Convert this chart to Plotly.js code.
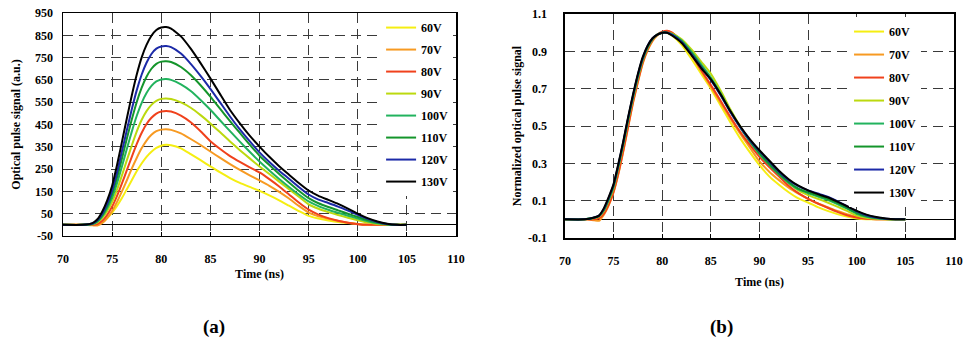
<!DOCTYPE html>
<html><head><meta charset="utf-8">
<script src="https://cdn.plot.ly/plotly-3.0.1.min.js"></script>
<style>html,body{margin:0;padding:0;background:#fff}#chart{width:967px;height:341px}</style>
</head><body><div id="chart"></div>
<script>
// time axis (ns), shared by all curves
const time = [70,72,73,73.5,74,74.5,75,75.5,76,76.5,77,77.5,78,78.5,79,79.5,80,80.5,81,82,83,84,85,86,87,88,89,90,91,92,93,94,95,96,97,98,99,100,101,102,103,104,105];
const voltages = ['60V','70V','80V','90V','100V','110V','120V','130V'];

// (a) optical pulse signal (a.u.)
const signal60  = [0,0,0,2,10,30,55,85,120,160,200,240,275,305,328,345,355,359,357,343,317,290,262,235,210,188,170,152,132,110,86,62,40,28,20,13,8,4,1,0,0,0,0];
const signal70  = [0,0,-2,-3,8,30,62,103,150,200,252,300,343,378,404,420,427,429,426,410,385,358,329,300,272,246,222,199,175,148,118,85,55,38,27,17,9,4,1,0,0,0,0];
const signal80  = [0,0,0,4,18,45,82,130,186,245,305,362,412,452,480,499,508,511,508,490,460,420,375,340,308,282,258,235,205,172,136,100,68,46,30,18,9,3,0,0,0,0,0];
const signal90  = [0,0,3,11,31,62,103,158,222,290,356,418,470,510,538,556,565,567,564,549,525,492,455,415,374,335,298,262,228,194,160,126,92,72,57,44,32,21,11,4,1,0,0];
const signal100 = [0,0,4,14,38,74,122,187,262,341,418,488,546,591,623,643,652,654,650,630,600,560,516,468,420,373,328,284,244,206,170,136,105,84,68,54,41,28,16,7,2,0,0];
const signal110 = [0,0,5,17,44,85,140,212,298,387,472,550,614,664,700,722,732,734,730,708,672,626,575,520,465,412,360,310,268,228,190,153,120,97,80,65,50,35,21,10,3,0,0];
const signal120 = [0,0,6,20,50,95,155,235,330,425,518,603,673,727,766,790,800,802,797,768,722,668,610,548,486,428,375,325,282,243,207,170,136,113,98,82,64,45,27,13,4,0,0];
const signal130 = [0,0,8,25,60,110,175,268,372,478,580,673,750,807,848,874,885,887,880,845,790,725,657,585,515,455,400,351,305,263,225,188,154,130,112,94,73,50,30,15,5,0,0];

// (b) normalized optical pulse signal
const norm60  = [0,0,.005,.015,.045,.1,.17,.28,.4,.53,.65,.76,.855,.92,.965,.99,1,1,.985,.935,.86,.78,.7,.61,.52,.435,.36,.29,.23,.185,.145,.112,.09,.065,.045,.028,.015,.005,0,0,0,0,0];
const norm70  = [0,0,-.005,-.008,.025,.075,.145,.245,.365,.495,.625,.735,.835,.905,.955,.985,1,1.008,1,.955,.88,.795,.71,.625,.54,.46,.385,.31,.255,.21,.17,.138,.11,.085,.065,.045,.028,.012,.004,0,0,0,0];
const norm80  = [0,0,0,.005,.03,.08,.15,.25,.37,.5,.63,.74,.84,.91,.96,.99,1.005,1.01,1,.955,.885,.8,.72,.635,.55,.47,.4,.335,.28,.23,.18,.14,.11,.085,.062,.04,.022,.01,.003,0,0,0,0];
const norm90  = [0,0,.007,.016,.045,.1,.17,.28,.4,.53,.65,.76,.855,.92,.965,.99,1,1,.995,.965,.91,.845,.78,.69,.59,.5,.42,.36,.3,.245,.195,.155,.13,.11,.09,.068,.045,.02,.008,.003,0,0,0];
const norm100 = [0,0,.008,.018,.05,.105,.175,.285,.405,.535,.655,.765,.858,.922,.966,.99,1,1,.992,.958,.898,.83,.76,.675,.58,.495,.418,.35,.292,.24,.195,.16,.14,.122,.104,.082,.057,.03,.014,.006,.002,0,0];
const norm110 = [0,0,.008,.018,.05,.11,.18,.29,.41,.54,.66,.77,.86,.925,.968,.99,1,1,.99,.952,.89,.82,.75,.668,.578,.495,.42,.355,.298,.245,.2,.165,.145,.128,.11,.088,.062,.035,.018,.008,.002,0,0];
const norm120 = [0,0,.01,.02,.055,.115,.185,.295,.415,.545,.665,.775,.865,.93,.97,.99,1,1,.99,.95,.885,.815,.745,.665,.575,.495,.425,.365,.31,.255,.21,.178,.155,.138,.122,.098,.07,.043,.022,.01,.003,0,0];
const norm130 = [0,0,.01,.02,.06,.12,.19,.3,.42,.55,.67,.78,.87,.93,.97,.99,1,1,.985,.945,.88,.81,.75,.67,.58,.5,.43,.37,.315,.26,.215,.18,.155,.135,.118,.095,.07,.045,.025,.012,.004,0,0];

// tick labels
const timeTicks = [70,75,80,85,90,95,100,105,110];
const timeTickText = ['70','75','80','85','90','95','100','105','110'];
const signalTicks = [-50,50,150,250,350,450,550,650,750,850,950];
const signalTickText = ['-50','50','150','250','350','450','550','650','750','850','950'];
const normTicks = [-0.1,0.1,0.3,0.5,0.7,0.9,1.1];
const normTickText = ['-0.1','0.1','0.3','0.5','0.7','0.9','1.1'];

const lineColors = ['#f5ee12','#f79a22','#f0411c','#bcd90f','#22b35e','#14952b','#1c2aa8','#000000'];
const FONT = '"Liberation Serif", "Times New Roman", serif';
const signals = [signal60,signal70,signal80,signal90,signal100,signal110,signal120,signal130];
const norms = [norm60,norm70,norm80,norm90,norm100,norm110,norm120,norm130];

const traces = [];
voltages.forEach((v,i)=>traces.push({x:time,y:signals[i],type:'scatter',mode:'lines',name:v,
  line:{color:lineColors[i],width:2,shape:'spline',smoothing:0.5},xaxis:'x',yaxis:'y',legend:'legend',legendgroup:'a'+i}));
voltages.forEach((v,i)=>traces.push({x:time,y:norms[i],type:'scatter',mode:'lines',name:v,
  line:{color:lineColors[i],width:2,shape:'spline',smoothing:0.5},xaxis:'x2',yaxis:'y2',legend:'legend2',legendgroup:'b'+i}));

function axis(extra){
  return Object.assign({showline:true,linecolor:'#000',linewidth:1.5,mirror:true,
    showgrid:true,gridcolor:'#3a3a3a',gridwidth:1,griddash:'10px,6px',zeroline:false,
    ticks:'inside',ticklen:4,tickcolor:'#000',
    tickfont:{family:FONT,size:12,color:'#000',weight:'bold'},
    automargin:false,fixedrange:true,tickmode:'array'},extra);
}
const titleFont = {family:FONT,size:12,color:'#000',weight:'bold'};
const legendFont = {family:FONT,size:12,color:'#000',weight:'bold'};

const layout = {
  width:967,height:341,margin:{l:63,r:13,t:13,b:103},
  paper_bgcolor:'#fff',plot_bgcolor:'#fff',showlegend:true,
  xaxis:axis({domain:[0,0.4411],range:[70,110],anchor:'y',tickvals:timeTicks,ticktext:timeTickText,ticklabelstandoff:11,
    title:{text:'Time (ns)',font:titleFont,standoff:4}}),
  yaxis:axis({domain:[0.0089,1],range:[-50,950],anchor:'x',tickvals:signalTicks,ticktext:signalTickText,ticks:'',ticklabelstandoff:6,
    zeroline:true,zerolinecolor:'#000',zerolinewidth:1.2,
    title:{text:'Optical pulse signal (a.u.)',font:titleFont,standoff:12}}),
  xaxis2:axis({domain:[0.5634,1],range:[70,110],anchor:'y2',tickvals:timeTicks,ticktext:timeTickText,ticklabelstandoff:11,
    title:{text:'Time (ns)',font:titleFont,standoff:10}}),
  yaxis2:axis({domain:[0,0.9956],range:[-0.1,1.1],anchor:'x2',tickvals:normTicks,ticktext:normTickText,ticks:'',ticklabelstandoff:14,
    zeroline:true,zerolinecolor:'#000',zerolinewidth:1.2,
    title:{text:'Normalized optical pulse signal',font:titleFont,standoff:4}}),
  legend:{x:0.357,y:0.9997,xanchor:'left',yanchor:'top',bgcolor:'#fff',borderwidth:0,font:legendFont,tracegroupgap:3},
  legend2:{x:0.8822,y:0.982,xanchor:'left',yanchor:'top',bgcolor:'#fff',borderwidth:0,font:legendFont,tracegroupgap:4},
  annotations:[
    {text:'(a)',xref:'paper',yref:'paper',x:0.1695,y:-0.3956,xanchor:'center',yanchor:'middle',showarrow:false,font:{family:FONT,size:19,color:'#000',weight:'bold'}},
    {text:'(b)',xref:'paper',yref:'paper',x:0.7396,y:-0.3956,xanchor:'center',yanchor:'middle',showarrow:false,font:{family:FONT,size:19,color:'#000',weight:'bold'}}
  ]
};
Plotly.newPlot('chart',traces,layout,{staticPlot:true,displayModeBar:false});
</script></body></html>
